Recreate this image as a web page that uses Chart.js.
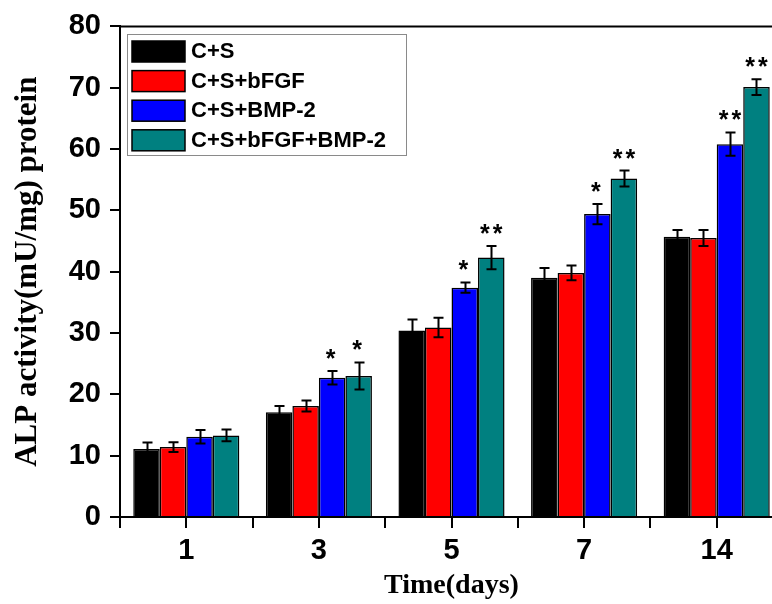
<!DOCTYPE html>
<html>
<head>
<meta charset="utf-8">
<script src="https://cdn.jsdelivr.net/npm/chart.js@4/dist/chart.umd.min.js"></script>
<style>
  html, body { margin: 0; padding: 0; background: #fff; overflow: hidden; }
  canvas { display: block; }
</style>
</head>
<body>
<canvas id="chart1" width="800" height="604"></canvas>
<script>
// data
const days = ['1', '3', '5', '7', '14'];
const groupNames = ['C+S', 'C+S+bFGF', 'C+S+BMP-2', 'C+S+bFGF+BMP-2'];
const groupColors = ['#000000', '#ff0000', '#0000ff', '#008080'];

const csValues = [11.1, 17.1, 30.4, 39.0, 45.7];
const bfgfValues = [11.4, 18.1, 30.9, 39.8, 45.5];
const bmpValues = [13.1, 22.7, 37.4, 49.4, 60.8];
const bothValues = [13.3, 23.0, 42.3, 55.2, 70.1];

const csErrors = [1.05, 1.0, 1.8, 1.6, 1.1];
const bfgfErrors = [0.8, 0.9, 1.6, 1.2, 1.3];
const bmpErrors = [1.1, 1.1, 0.85, 1.65, 1.9];
const bothErrors = [0.95, 2.2, 1.9, 1.3, 1.3];

const csStars = ['', '', '', '', ''];
const bfgfStars = ['', '', '', '', ''];
const bmpStars = ['', '*', '*', '*', '**'];
const bothStars = ['', '*', '**', '**', '**'];

const yTicks = [0, 10, 20, 30, 40, 50, 60, 70, 80];

const allValues = [csValues, bfgfValues, bmpValues, bothValues];
const allErrors = [csErrors, bfgfErrors, bmpErrors, bothErrors];
const allStars = [csStars, bfgfStars, bmpStars, bothStars];

// error bars, significance stars, extra x ticks, top frame and boxed legend
const extrasPlugin = {
    id: 'extras',
    afterDatasetsDraw(chart) {
        const ctx = chart.ctx;
        const y = chart.scales.y;
        const x = chart.scales.x;
        const area = chart.chartArea;
        ctx.save();

        // top frame line
        ctx.strokeStyle = '#000';
        ctx.lineWidth = 2;
        ctx.beginPath();
        ctx.moveTo(area.left, area.top);
        ctx.lineTo(area.right, area.top);
        ctx.stroke();

        // ticks at category centres
        days.forEach(function (d, i) {
            const px = Math.round(x.getPixelForValue(i));
            ctx.beginPath();
            ctx.moveTo(px, area.bottom);
            ctx.lineTo(px, area.bottom + 11);
            ctx.stroke();
        });

        // error bars
        ctx.lineWidth = 2;
        chart.data.datasets.forEach(function (ds, i) {
            const meta = chart.getDatasetMeta(i);
            meta.data.forEach(function (bar, j) {
                const v = allValues[i][j];
                const e = allErrors[i][j];
                const top = y.getPixelForValue(v + e);
                const bot = y.getPixelForValue(v - e);
                const bx = Math.round(bar.x) + 0.5;
                ctx.beginPath();
                ctx.moveTo(bx, top);
                ctx.lineTo(bx, bot);
                ctx.moveTo(bx - 5, top);
                ctx.lineTo(bx + 5, top);
                ctx.moveTo(bx - 5, bot);
                ctx.lineTo(bx + 5, bot);
                ctx.stroke();

                const s = allStars[i][j];
                if (s) {
                    ctx.fillStyle = '#000';
                    ctx.font = 'bold 25px "Liberation Sans", Arial, sans-serif';
                    ctx.letterSpacing = '3px';
                    ctx.textAlign = 'center';
                    ctx.textBaseline = 'alphabetic';
                    ctx.fillText(s, bar.x + (s.length > 1 ? 1.5 : 0), top - 4);
                    ctx.letterSpacing = '0px';
                }
            });
        });

        // legend box
        const lx = 127, ly = 34, lw = 279, lh = 121;
        ctx.fillStyle = '#fff';
        ctx.fillRect(lx, ly, lw, lh);
        ctx.strokeStyle = '#8a8a8a';
        ctx.lineWidth = 1;
        ctx.strokeRect(lx + 0.5, ly + 0.5, lw, lh);
        ctx.font = 'bold 22px "Liberation Sans", Arial, sans-serif';
        ctx.textAlign = 'left';
        ctx.textBaseline = 'middle';
        chart.data.datasets.forEach(function (ds, i) {
            const cy = 51 + i * 29.6;
            ctx.fillStyle = ds.backgroundColor;
            ctx.fillRect(132, cy - 10, 53, 21);
            ctx.strokeStyle = '#000';
            ctx.lineWidth = 1.5;
            ctx.strokeRect(132, cy - 10, 53, 21);
            ctx.fillStyle = '#000';
            ctx.fillText(ds.label, 191, cy + 1);
        });

        ctx.restore();
    }
};

const ctx1 = document.getElementById('chart1').getContext('2d');
const chart1 = new Chart(ctx1, {
    type: 'bar',
    data: {
        labels: days,
        datasets: groupNames.map(function (name, i) {
            return {
                label: name,
                data: allValues[i],
                backgroundColor: groupColors[i],
                borderColor: '#000',
                borderWidth: 1.5,
                barPercentage: 1,
                categoryPercentage: 0.8
            };
        })
    },
    options: {
        responsive: false,
        animation: false,
        devicePixelRatio: 1,
        layout: { padding: { top: 25, right: 17, left: 0, bottom: 0 } },
        plugins: {
            legend: { display: false },
            tooltip: { enabled: false }
        },
        scales: {
            x: {
                grid: {
                    drawOnChartArea: false,
                    color: '#000',
                    lineWidth: 2,
                    tickLength: 11
                },
                border: { color: '#000', width: 2 },
                ticks: {
                    color: '#000',
                    padding: 6,
                    font: { family: '"Liberation Sans", Arial, sans-serif', size: 29, weight: 'bold' }
                },
                title: {
                    display: true,
                    text: 'Time(days)',
                    color: '#000',
                    padding: { top: 0, bottom: 1 },
                    font: { family: '"Liberation Serif", "Times New Roman", serif', size: 28, weight: 'bold' }
                },
                afterFit: function (scale) { scale.height = 87; }
            },
            y: {
                min: 0,
                max: 80,
                afterBuildTicks: function (scale) {
                    scale.ticks = yTicks.map(function (v) { return { value: v }; });
                },
                grid: {
                    drawOnChartArea: false,
                    color: '#000',
                    lineWidth: 2,
                    tickLength: 10
                },
                border: { color: '#000', width: 2 },
                ticks: {
                    color: '#000',
                    padding: 9,
                    font: { family: '"Liberation Sans", Arial, sans-serif', size: 29, weight: 'bold' }
                },
                title: {
                    display: true,
                    text: 'ALP activity(mU/mg) protein',
                    color: '#000',
                    padding: { top: 9, bottom: 0 },
                    font: { family: '"Liberation Serif", "Times New Roman", serif', size: 31, weight: 'bold' }
                },
                afterFit: function (scale) { scale.width = 120; }
            }
        }
    },
    plugins: [extrasPlugin]
});
</script>
</body>
</html>
